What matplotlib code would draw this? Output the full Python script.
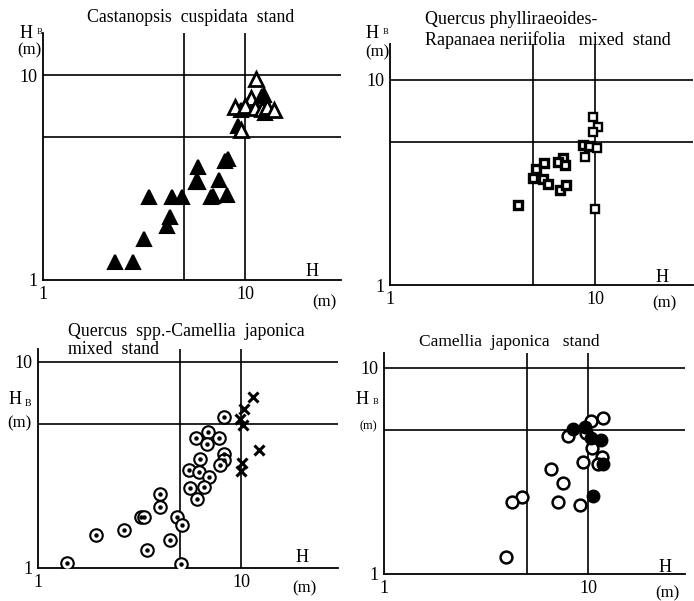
import matplotlib
matplotlib.use("Agg")
import matplotlib.pyplot as plt

plt.rcParams["font.family"] = ["Liberation Serif", "DejaVu Serif"]

W, H = 694, 601

# --- panel 1: Castanopsis cuspidata stand (triangles)
cc_open_h = [11.3, 10.7, 8.9, 10.0, 11.2, 12.1, 12.8, 13.9, 9.6]
cc_open_hb = [9.55, 7.75, 6.95, 7.05, 6.88, 6.8, 6.95, 6.75, 5.38]
cc_fill_h = [12.1, 12.4, 9.6, 12.5, 9.25, 8.27, 8.0, 5.83, 5.72, 5.85, 7.45, 6.75,
             6.95, 8.1, 3.33, 4.33, 4.9, 4.23, 4.13, 3.16, 2.27, 2.78]
cc_fill_hb = [7.9, 8.0, 6.75, 6.55, 5.63, 3.88, 3.8, 3.57, 2.99, 3.02, 3.07, 2.55,
              2.58, 2.6, 2.55, 2.55, 2.53, 2.02, 1.84, 1.58, 1.22, 1.23]

# --- panel 2: Quercus phylliraeoides - Rapanaea neriifolia (squares)
qr_bold_h = [4.2, 4.97, 5.15, 5.63, 5.55, 5.88, 6.75, 7.21, 6.96, 6.63, 7.14, 8.78, 9.38]
qr_bold_hb = [2.46, 3.32, 3.67, 3.92, 3.28, 3.11, 2.9, 3.07, 4.15, 3.97, 3.85, 4.82, 4.78]
qr_open_h = [9.82, 10.4, 9.82, 10.2, 8.94, 10.0]
qr_open_hb = [6.58, 5.88, 5.6, 4.64, 4.23, 2.35]

# --- panel 3: Quercus spp. - Camellia japonica (dotted circles and crosses)
qc_circ_h = [8.22, 6.03, 6.88, 6.8, 7.79, 6.26, 8.22, 8.22, 7.85, 5.55, 6.22, 6.94,
             5.58, 6.58, 6.1, 4.01, 3.98, 3.23, 3.32, 4.84, 5.14, 2.64, 1.92, 4.46,
             3.46, 5.09, 1.39]
qc_circ_hb = [5.41, 4.28, 4.57, 4.01, 4.28, 3.38, 3.57, 3.33, 3.15, 2.98, 2.92, 2.77,
              2.44, 2.46, 2.16, 2.29, 1.98, 1.77, 1.77, 1.77, 1.61, 1.53, 1.45, 1.37,
              1.22, 1.04, 1.06]
qc_x_h = [11.4, 10.3, 9.85, 10.2, 12.3, 10.1, 10.05]
qc_x_hb = [6.73, 5.93, 5.3, 4.96, 3.72, 3.23, 2.97]

# --- panel 4: Camellia japonica stand (open and filled circles)
cj_open_h = [11.8, 10.35, 8.01, 9.78, 10.5, 11.7, 11.2, 9.49, 6.59, 7.57, 4.77, 4.26,
             7.16, 9.14, 3.95]
cj_open_hb = [5.7, 5.55, 4.68, 4.85, 4.07, 3.71, 3.41, 3.48, 3.23, 2.76, 2.37, 2.23,
              2.23, 2.16, 1.21]
cj_fill_h = [8.41, 9.67, 10.4, 11.6, 11.9, 10.6]
cj_fill_hb = [5.06, 5.19, 4.56, 4.47, 3.41, 2.4]

fig = plt.figure(figsize=(W / 100, H / 100), dpi=100)


def px_axes(left, bottom, ytop, xdec, ydec):
    # left/bottom in pixels from top-left, decade sizes in pixels
    import math
    w = xdec * math.log10(30)
    h = ydec * math.log10(ytop)
    ax = fig.add_axes([left / W, 1 - bottom / H, w / W, h / H])
    ax.set_xscale("log")
    ax.set_yscale("log")
    ax.set_xlim(1, 30)
    ax.set_ylim(1, ytop)
    for s in ["top", "right"]:
        ax.spines[s].set_visible(False)
    for s in ["left", "bottom"]:
        ax.spines[s].set_linewidth(1.3)
    ax.set_xticks([1, 10])
    ax.set_xticklabels(["1", "10"])
    ax.set_yticks([1, 10])
    ax.set_yticklabels(["1", "10"])
    ax.minorticks_off()
    ax.tick_params(length=0, labelsize=13, pad=4)
    for v in [5, 10]:
        ax.axvline(v, color="k", lw=1.2, zorder=1)
        ax.axhline(v, color="k", lw=1.2, zorder=1)
    ax.set_facecolor("none")
    return ax


def ftext(x, y, s, size=12, **kw):
    fig.text(x / W, 1 - y / H, s, fontsize=size, va="center", **kw)


# panel 1
ax1 = px_axes(43, 280, 16, 202, 205)
ax1.plot(cc_fill_h, cc_fill_hb, "^", ms=10, mfc="k", mec="k", mew=1.5, zorder=3)
ax1.plot(cc_open_h, cc_open_hb, "^", ms=9.5, mfc="white", mec="k", mew=2.0, zorder=3)
ftext(191, 18, "Castanopsis  cuspidata  stand", 12.8, ha="center")
ftext(20, 34, "H", 13)
ftext(37, 32, "B", 6)
ftext(17, 50, "(m)", 12)
ftext(306, 272, "H", 13)
ftext(312, 302, "(m)", 12)

# panel 2
ax2 = px_axes(390, 285, 15, 205, 205)
ax2.plot(qr_bold_h, qr_bold_hb, "s", ms=5.5, mfc="white", mec="k", mew=2.4, zorder=3)
ax2.plot(qr_open_h, qr_open_hb, "s", ms=5.5, mfc="white", mec="k", mew=1.7, zorder=3)
ftext(425, 20, "Quercus phylliraeoides-", 13)
ftext(425, 40, "Rapanaea neriifolia   mixed  stand", 13)
ftext(366, 33, "H", 13)
ftext(383, 32, "B", 6)
ftext(365, 52, "(m)", 12)
ftext(656, 277, "H", 13)
ftext(652, 303, "(m)", 12)

# panel 3
ax3 = px_axes(38, 568, 11.5, 203, 206)
ax3.plot(qc_circ_h, qc_circ_hb, "o", ms=9, mfc="white", mec="k", mew=1.5, zorder=3)
ax3.plot(qc_circ_h, qc_circ_hb, "o", ms=2.2, mfc="k", mec="k", zorder=4)
ax3.plot(qc_x_h, qc_x_hb, "x", ms=7, mec="k", mew=2.2, zorder=3)
ftext(68, 332, "Quercus  spp.-Camellia  japonica", 12.8)
ftext(68, 350, "mixed  stand", 12.8)
ftext(9, 400, "H", 13)
ftext(25, 404, "B", 7)
ftext(7, 423, "(m)", 12)
ftext(296, 557, "H", 13)
ftext(292, 588, "(m)", 12)

# panel 4
ax4 = px_axes(384, 574, 11.8, 204, 206)
ax4.plot(cj_open_h, cj_open_hb, "o", ms=8.5, mfc="white", mec="k", mew=1.8, zorder=3)
ax4.plot(cj_fill_h, cj_fill_hb, "o", ms=8.5, mfc="k", mec="k", mew=1.5, zorder=3)
ftext(509, 342, "Camellia  japonica   stand", 12.5, ha="center")
ftext(356, 400, "H", 13)
ftext(373, 402, "B", 6)
ftext(360, 426, "(m)", 9)
ftext(659, 567, "H", 13)
ftext(655, 593, "(m)", 12)

fig.savefig("out.png", dpi=100)
